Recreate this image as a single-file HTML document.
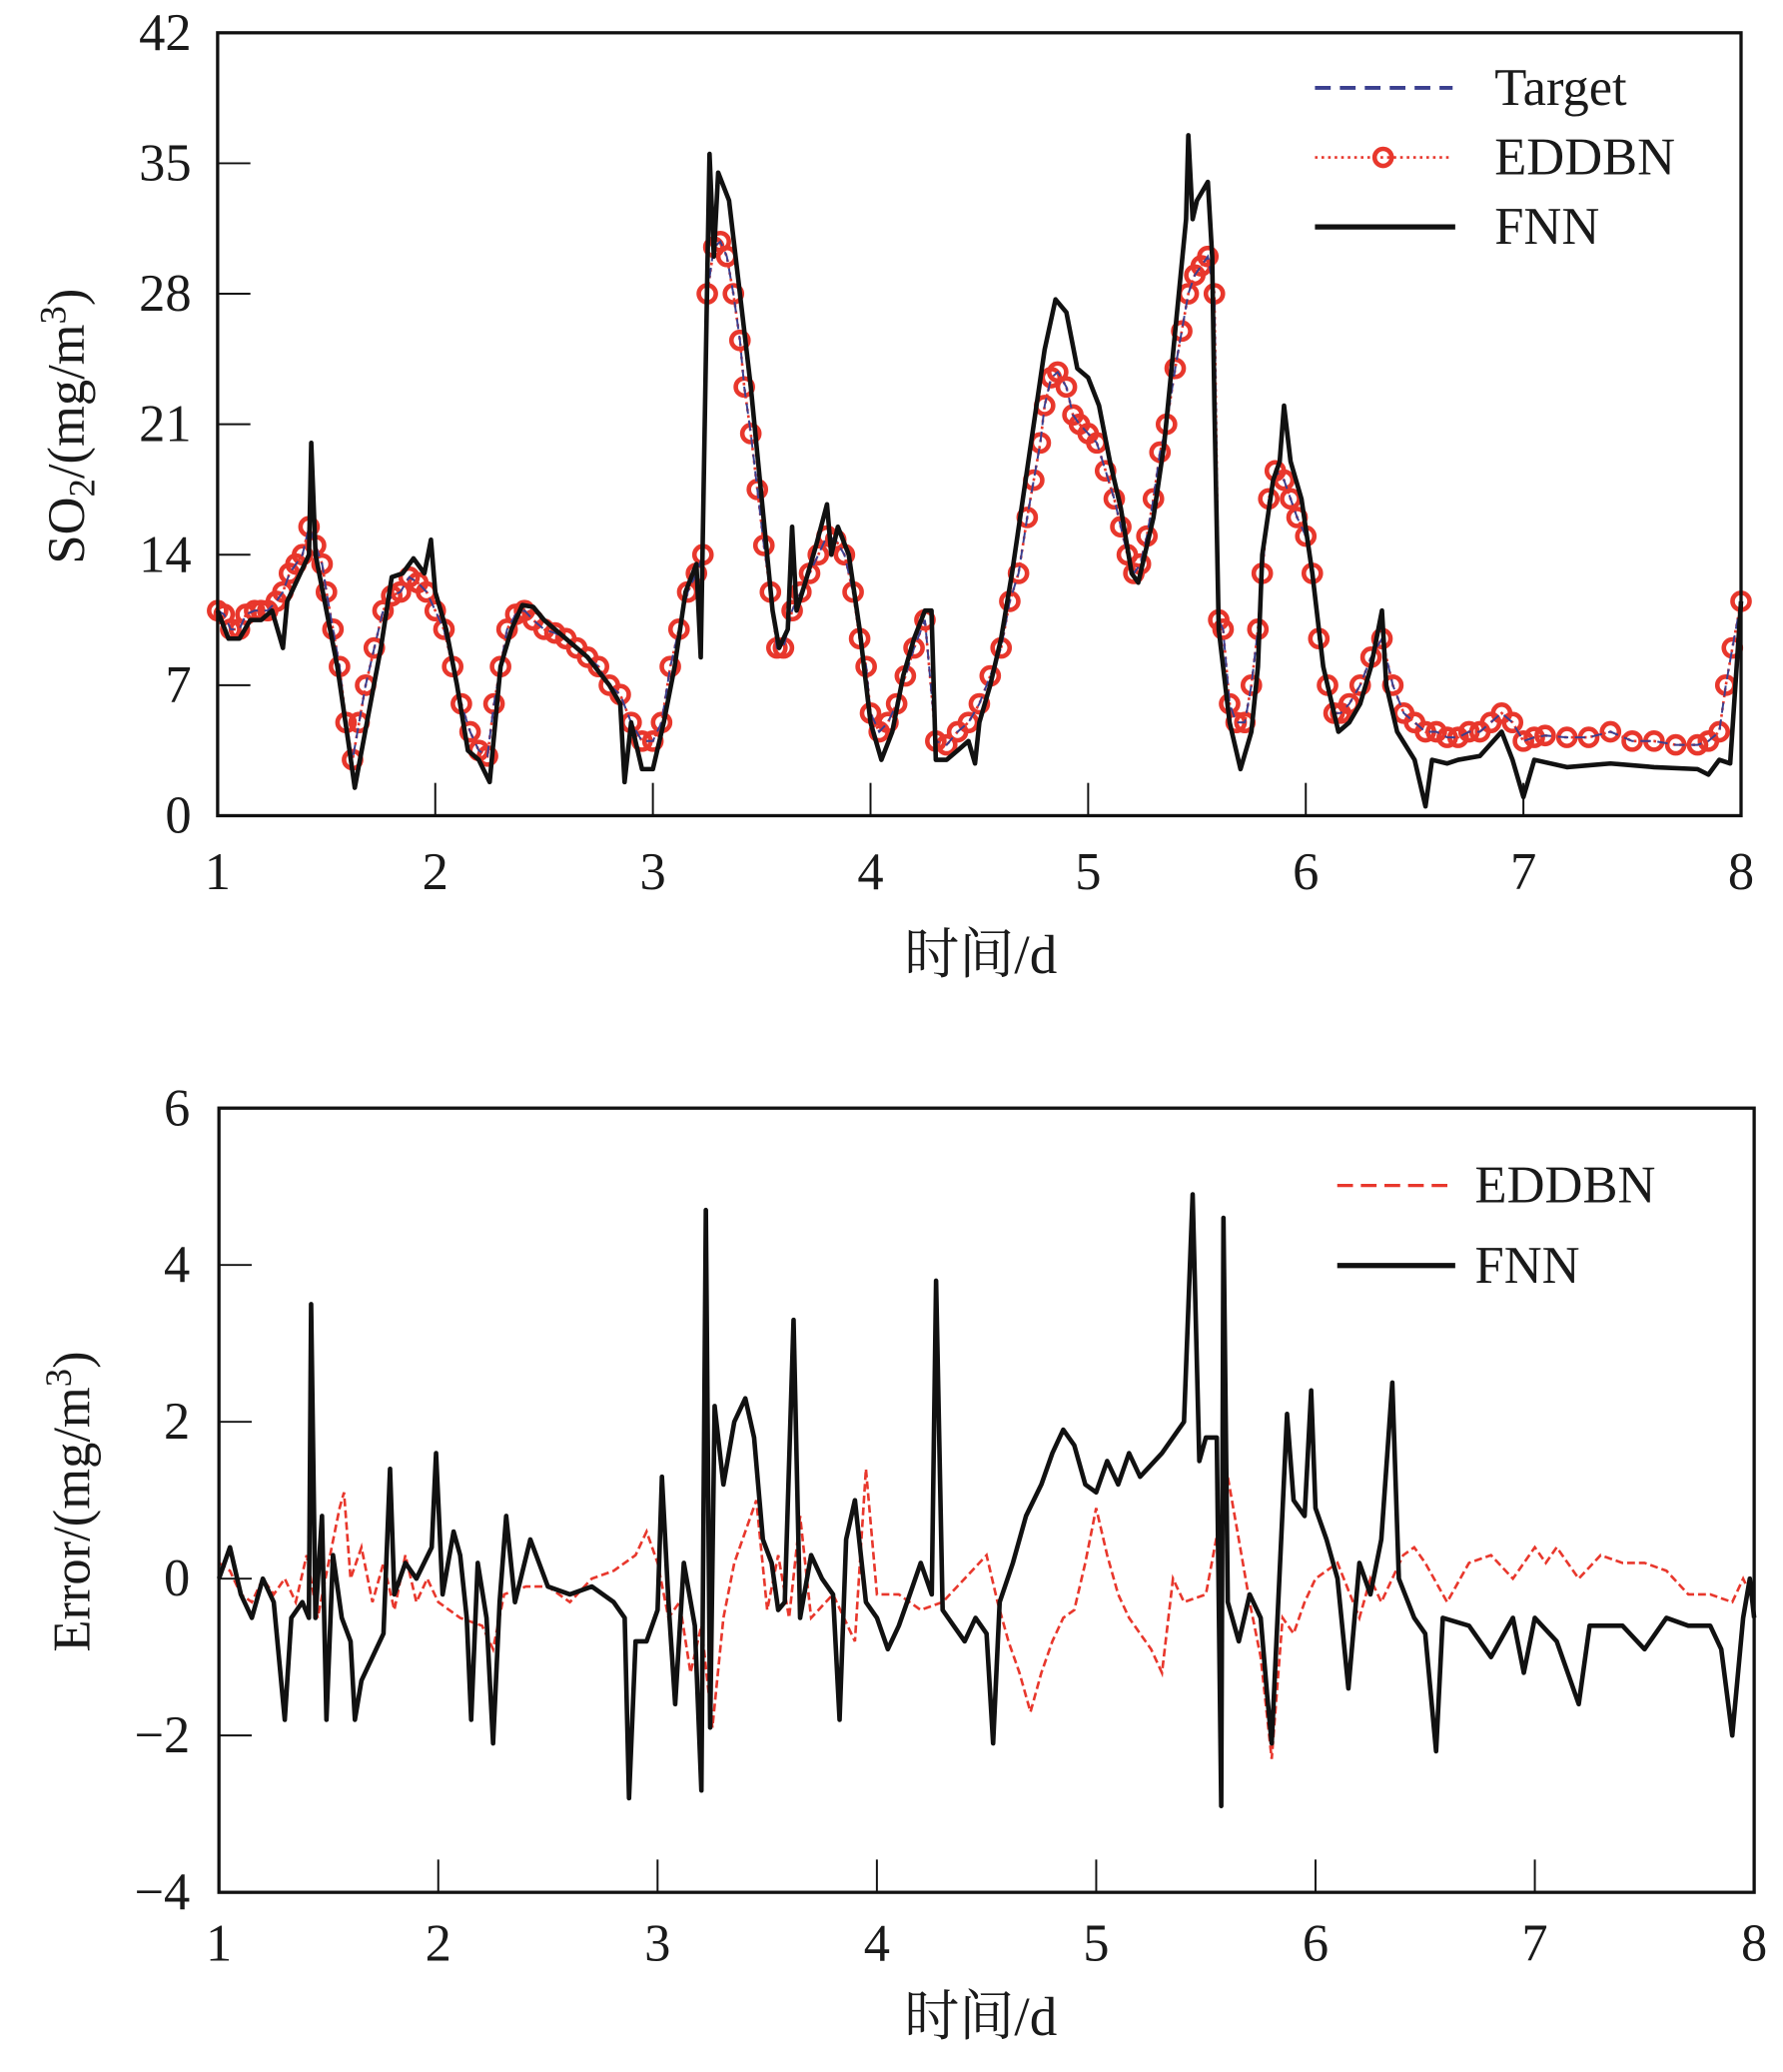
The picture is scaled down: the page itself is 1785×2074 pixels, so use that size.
<!DOCTYPE html>
<html><head><meta charset="utf-8"><style>
html,body{margin:0;padding:0;background:#fff;}
svg{display:block;}
text{font-family:"Liberation Serif","Noto Serif CJK SC",serif;fill:#1a1a1a;}
</style></head><body>
<svg id="chart" width="1785" height="2074" viewBox="0 0 1360 1580" preserveAspectRatio="none" xmlns="http://www.w3.org/2000/svg">
<g id="top"></g>
<g id="bot"></g>
</svg>
<script>
// ---- data (top panel) ----
const xTicks=[1,2,3,4,5,6,7,8];
const topYTicks=[0,7,14,21,28,35,42];
const botYTicks=[-4,-2,0,2,4,6];
const botYTickLabels=["\u22124","\u22122","0","2","4","6"];
const fnnX=[1.0,1.05,1.1,1.15,1.2,1.25,1.3,1.32,1.38,1.42,1.43,1.45,1.5,1.55,1.6,1.63,1.67,1.75,1.8,1.85,1.9,1.95,1.98,2.0,2.05,2.1,2.15,2.2,2.25,2.3,2.35,2.4,2.45,2.5,2.6,2.7,2.8,2.85,2.87,2.9,2.95,3.0,3.05,3.1,3.15,3.2,3.22,3.25,3.26,3.28,3.3,3.35,3.4,3.45,3.5,3.55,3.58,3.62,3.64,3.66,3.7,3.75,3.8,3.82,3.85,3.9,3.95,4.0,4.05,4.1,4.15,4.2,4.25,4.28,4.3,4.35,4.4,4.45,4.48,4.5,4.55,4.6,4.65,4.7,4.75,4.8,4.85,4.9,4.95,5.0,5.05,5.1,5.15,5.2,5.23,5.3,5.35,5.4,5.45,5.46,5.48,5.5,5.55,5.57,5.58,5.6,5.65,5.7,5.75,5.78,5.8,5.85,5.88,5.9,5.93,5.98,6.03,6.08,6.15,6.2,6.25,6.3,6.35,6.37,6.42,6.5,6.55,6.58,6.65,6.7,6.8,6.9,6.95,7.0,7.05,7.2,7.4,7.6,7.8,7.85,7.9,7.95,8.0];
const fnnY=[11,9.5,9.5,10.5,10.5,11,9,11.5,13,14,20,14,11,8,4,1.5,4,9,12.8,13,13.8,13,14.8,12,10,7,3.5,3,1.8,8,10,11.3,11.2,10.5,9.5,8.5,7,6,1.8,5,2.5,2.5,5,8,12,13.5,8.5,29,35.5,30,34.5,33,28,23,17,11,9,10,15.5,11,12.5,14.5,16.7,14,15.5,14,10,5,3,4.5,7.5,9.5,11,11,3,3,3.5,4,2.8,5,7,9.5,13,17,21,25,27.7,27,24,23.5,22,19,16.5,13,12.5,16,20,26,32,36.5,32,33,34,30,22,10,5,2.5,4.5,8,14,18,19,22,19,17,13,8,4.5,5,6,8,11,7,4.5,3,0.5,3,2.8,3,3.2,4.5,3,1,3,2.6,2.8,2.6,2.5,2.2,3,2.8,11.5];
const eddX=[1.0,1.03,1.06,1.1,1.13,1.17,1.2,1.23,1.27,1.3,1.33,1.36,1.39,1.42,1.45,1.48,1.5,1.53,1.56,1.59,1.62,1.65,1.68,1.72,1.76,1.8,1.84,1.88,1.92,1.96,2.0,2.04,2.08,2.12,2.16,2.2,2.24,2.27,2.3,2.33,2.37,2.41,2.45,2.5,2.55,2.6,2.65,2.7,2.75,2.8,2.85,2.9,2.95,3.0,3.04,3.08,3.12,3.16,3.2,3.23,3.25,3.28,3.31,3.34,3.37,3.4,3.42,3.45,3.48,3.51,3.54,3.57,3.6,3.64,3.68,3.72,3.76,3.8,3.84,3.88,3.92,3.95,3.98,4.0,4.04,4.08,4.12,4.16,4.2,4.25,4.3,4.35,4.4,4.45,4.5,4.55,4.6,4.64,4.68,4.72,4.75,4.78,4.8,4.83,4.86,4.9,4.93,4.96,5.0,5.04,5.08,5.12,5.15,5.18,5.21,5.24,5.27,5.3,5.33,5.36,5.4,5.43,5.46,5.49,5.52,5.55,5.58,5.6,5.62,5.65,5.68,5.72,5.75,5.78,5.8,5.83,5.86,5.9,5.93,5.96,6.0,6.03,6.06,6.1,6.13,6.16,6.2,6.25,6.3,6.35,6.4,6.45,6.5,6.55,6.6,6.65,6.7,6.75,6.8,6.85,6.9,6.95,7.0,7.05,7.1,7.2,7.3,7.4,7.5,7.6,7.7,7.8,7.85,7.9,7.93,7.96,8.0];
const eddY=[11,10.8,10,10,10.8,11,11,11,11.5,12,13,13.5,14,15.5,14.5,13.5,12,10,8,5,3,5,7,9,11,11.8,12,12.8,12.5,12,11,10,8,6,4.5,3.5,3.2,6,8,10,10.8,11,10.5,10,9.8,9.5,9,8.5,8,7,6.5,5,4,4,5,8,10,12,13,14,28,30.5,30.8,30,28,25.5,23,20.5,17.5,14.5,12,9,9,11,12,13,14,15,14.8,14,12,9.5,8,5.5,4.5,5,6,7.5,9,10.5,4,3.8,4.5,5,6,7.5,9,11.5,13,16,18,20,22,23.5,23.8,23,21.5,21,20.5,20,18.5,17,15.5,14,13,13.5,15,17,19.5,21,24,26,28,29,29.5,30,28,10.5,10,6,5,5,7,10,13,17,18.5,18,17,16,15,13,9.5,7,5.5,5.5,6,7,8.5,9.5,7,5.5,5,4.5,4.5,4.2,4.2,4.5,4.5,5,5.5,5,4,4.2,4.3,4.2,4.2,4.5,4,4,3.8,3.8,4,4.5,7,9,11.5];
// ---- data (error panel) ----
const efX=[1.0,1.05,1.1,1.15,1.2,1.25,1.3,1.33,1.38,1.41,1.42,1.44,1.47,1.49,1.52,1.56,1.6,1.62,1.65,1.7,1.75,1.78,1.8,1.85,1.9,1.97,1.99,2.02,2.07,2.1,2.13,2.15,2.18,2.22,2.25,2.28,2.31,2.35,2.42,2.5,2.6,2.7,2.8,2.85,2.87,2.9,2.95,3.0,3.02,3.05,3.08,3.12,3.17,3.2,3.22,3.24,3.26,3.3,3.35,3.4,3.44,3.48,3.52,3.55,3.58,3.62,3.65,3.7,3.75,3.8,3.83,3.86,3.9,3.95,4.0,4.05,4.1,4.15,4.2,4.25,4.27,4.3,4.35,4.4,4.45,4.5,4.53,4.56,4.62,4.68,4.75,4.8,4.85,4.9,4.95,5.0,5.05,5.1,5.15,5.2,5.3,5.4,5.44,5.47,5.5,5.55,5.57,5.58,5.6,5.65,5.7,5.75,5.78,5.8,5.83,5.87,5.9,5.95,5.98,6.0,6.05,6.1,6.15,6.2,6.25,6.3,6.35,6.38,6.45,6.5,6.55,6.58,6.7,6.8,6.9,6.95,7.0,7.1,7.2,7.25,7.4,7.5,7.6,7.7,7.8,7.85,7.9,7.95,7.98,8.0];
const efY=[0,0.4,-0.2,-0.5,0,-0.3,-1.8,-0.5,-0.3,-0.5,3.5,-0.5,0.8,-1.8,0.3,-0.5,-0.8,-1.8,-1.3,-1,-0.7,1.4,-0.2,0.2,0,0.4,1.6,-0.2,0.6,0.3,-0.5,-1.8,0.2,-0.5,-2.1,-0.3,0.8,-0.3,0.5,-0.1,-0.2,-0.1,-0.3,-0.5,-2.8,-0.8,-0.8,-0.4,1.3,-0.3,-1.6,0.2,-0.6,-2.7,4.7,-1.9,2.2,1.2,2,2.3,1.8,0.5,0.2,-0.4,-0.3,3.3,-0.5,0.3,0,-0.2,-1.8,0.5,1,-0.3,-0.5,-0.9,-0.6,-0.2,0.2,-0.2,3.8,-0.4,-0.6,-0.8,-0.5,-0.7,-2.1,-0.3,0.2,0.8,1.2,1.6,1.9,1.7,1.2,1.1,1.5,1.2,1.6,1.3,1.6,2,4.9,1.5,1.8,1.8,-2.9,4.6,-0.3,-0.8,-0.2,-0.5,-1.5,-2.1,-0.3,2.1,1,0.8,2.4,0.9,0.5,0,-1.4,0.2,-0.2,0.5,2.5,0,-0.5,-0.7,-2.2,-0.5,-0.6,-1,-0.5,-1.2,-0.5,-0.8,-1.6,-0.6,-0.6,-0.9,-0.5,-0.6,-0.6,-0.9,-2,-0.5,0,-0.5];
const eeX=[1.0,1.05,1.1,1.15,1.2,1.25,1.3,1.35,1.4,1.45,1.5,1.55,1.57,1.6,1.65,1.7,1.75,1.8,1.85,1.9,1.95,2.0,2.1,2.2,2.25,2.3,2.4,2.5,2.6,2.7,2.8,2.9,2.95,3.0,3.05,3.1,3.15,3.2,3.25,3.3,3.35,3.4,3.45,3.5,3.55,3.6,3.65,3.7,3.8,3.9,3.95,4.0,4.1,4.2,4.3,4.4,4.5,4.55,4.6,4.65,4.7,4.75,4.8,4.85,4.9,4.95,5.0,5.05,5.1,5.15,5.2,5.25,5.3,5.35,5.4,5.5,5.6,5.65,5.7,5.75,5.8,5.85,5.9,5.95,6.0,6.1,6.2,6.25,6.3,6.4,6.45,6.5,6.6,6.7,6.8,6.9,7.0,7.05,7.1,7.2,7.3,7.4,7.5,7.6,7.7,7.8,7.9,7.95,8.0];
const eeY=[0.2,0.1,-0.2,-0.3,0,-0.2,0,-0.3,0.3,-0.5,0.2,0.9,1.1,0,0.4,-0.3,0.2,-0.4,0.3,-0.3,0,-0.3,-0.5,-0.6,-0.9,-0.2,-0.1,-0.1,-0.3,0,0.1,0.3,0.6,0.2,-0.5,-0.3,-1.2,-0.6,-1.9,-0.5,0.2,0.6,1.0,-0.4,0.3,-0.5,0.8,-0.5,-0.2,-0.8,1.4,-0.2,-0.2,-0.4,-0.3,0,0.3,-0.3,-0.8,-1.2,-1.7,-1.2,-0.8,-0.5,-0.4,0.2,0.9,0.3,-0.2,-0.5,-0.7,-0.9,-1.2,0,-0.3,-0.2,1.3,0.5,-0.3,-1,-2.3,-0.5,-0.7,-0.3,0,0.2,-0.5,0,-0.3,0.3,0.4,0.2,-0.3,0.2,0.3,0,0.4,0.2,0.4,0,0.3,0.2,0.2,0.1,-0.2,-0.2,-0.3,0,-0.3];

const NS="http://www.w3.org/2000/svg";
function mk(parent,tag,attrs,txt){const e=document.createElementNS(NS,tag);for(const k in attrs)e.setAttribute(k,attrs[k]);if(txt!==undefined)e.textContent=txt;parent.appendChild(e);return e;}
function scale(d0,d1,r0,r1){return v=>r0+(v-d0)*(r1-r0)/(d1-d0);}
function pathD(xs,ys,sx,sy){return xs.map((x,i)=>(i?'L':'M')+sx(x).toFixed(1)+','+sy(ys[i]).toFixed(1)).join('');}

// ===== top panel =====
const T=document.getElementById('top');
const tL=166,tR=1328,tT=25,tB=622;
const tx=scale(1,8,tL,tR), ty=scale(0,42,tB,tT);
let e;
e=mk(T,'path',{d:pathD(eddX,eddY,tx,ty),fill:'none',stroke:'#e8372c','stroke-width':2,'stroke-dasharray':'2,3'});


const mg=mk(T,'g',{});


eddX.forEach((x,i)=>{const c=mk(mg,'circle',{cx:tx(x),cy:ty(eddY[i]),r:6.5,fill:'none',stroke:'#e8372c','stroke-width':3.5});

});
e=mk(T,'path',{d:pathD(eddX,eddY,tx,ty),fill:'none',stroke:'#3a3f8f','stroke-width':1.5,'stroke-dasharray':'8,5'});


e=mk(T,'path',{d:pathD(fnnX,fnnY,tx,ty),fill:'none',stroke:'#111','stroke-width':3.5,'stroke-linejoin':'round'});


e=mk(T,'rect',{x:tL,y:tT,width:tR-tL,height:tB-tT,fill:'none',stroke:'#111','stroke-width':2.5});


xTicks.forEach(v=>{mk(T,'line',{x1:tx(v),x2:tx(v),y1:tB,y2:tB-25,stroke:'#111','stroke-width':1.5});
const t=mk(T,'text',{x:tx(v),y:tB+56,'font-size':40,'text-anchor':'middle'},String(v));

});
topYTicks.forEach(v=>{mk(T,'line',{x1:tL,x2:tL+25,y1:ty(v),y2:ty(v),stroke:'#111','stroke-width':1.5});
const t=mk(T,'text',{x:tL-20,y:ty(v)+13,'font-size':40,'text-anchor':'end'},String(v));

});
e=mk(T,'text',{x:748,y:742,'font-size':42,'text-anchor':'middle'},'时间/d');


e=mk(T,'text',{transform:'translate(64,325) rotate(-90)','font-size':40,'text-anchor':'middle'});
e.innerHTML='SO<tspan font-size="28" dy="8">2</tspan><tspan dy="-8">/(mg/m</tspan><tspan font-size="28" dy="-14">3</tspan><tspan dy="14">)</tspan>';


// legend
const lg=mk(T,'g',{});


mk(lg,'line',{x1:1003,x2:1108,y1:67,y2:67,stroke:'#3a3f8f','stroke-width':3,'stroke-dasharray':'12,7'});
mk(lg,'text',{x:1140,y:80,'font-size':40},'Target');
mk(lg,'line',{x1:1003,x2:1108,y1:120,y2:120,stroke:'#e8372c','stroke-width':2,'stroke-dasharray':'2,3'});
mk(lg,'circle',{cx:1055,cy:120,r:6.5,fill:'none',stroke:'#e8372c','stroke-width':3.5});
mk(lg,'text',{x:1140,y:133,'font-size':40},'EDDBN');
mk(lg,'line',{x1:1003,x2:1110,y1:173,y2:173,stroke:'#111','stroke-width':4});
mk(lg,'text',{x:1140,y:186,'font-size':40},'FNN');

// ===== bottom panel =====
const B=document.getElementById('bot');
const bL=167,bR=1338,bT=845,bB=1443;
const bx=scale(1,8,bL,bR), by=scale(-4,6,bB,bT);
e=mk(B,'path',{d:pathD(eeX,eeY,bx,by),fill:'none',stroke:'#e8372c','stroke-width':2,'stroke-dasharray':'6,3'});


e=mk(B,'path',{d:pathD(efX,efY,bx,by),fill:'none',stroke:'#111','stroke-width':3.5,'stroke-linejoin':'round'});


e=mk(B,'rect',{x:bL,y:bT,width:bR-bL,height:bB-bT,fill:'none',stroke:'#111','stroke-width':2.5});


xTicks.forEach(v=>{mk(B,'line',{x1:bx(v),x2:bx(v),y1:bB,y2:bB-25,stroke:'#111','stroke-width':1.5});
const t=mk(B,'text',{x:bx(v),y:bB+52,'font-size':40,'text-anchor':'middle'},String(v));

});
botYTicks.forEach((v,i)=>{mk(B,'line',{x1:bL,x2:bL+25,y1:by(v),y2:by(v),stroke:'#111','stroke-width':1.5});
const t=mk(B,'text',{x:bL-22,y:by(v)+13,'font-size':40,'text-anchor':'end'},botYTickLabels[i]);

});
e=mk(B,'text',{x:748,y:1552,'font-size':42,'text-anchor':'middle'},'时间/d');


e=mk(B,'text',{transform:'translate(68,1145) rotate(-90)','font-size':40,'text-anchor':'middle'});
e.innerHTML='Error/(mg/m<tspan font-size="28" dy="-14">3</tspan><tspan dy="14">)</tspan>';


const lg2=mk(B,'g',{});


mk(lg2,'line',{x1:1020,x2:1108,y1:904,y2:904,stroke:'#e8372c','stroke-width':2.5,'stroke-dasharray':'12,6'});
mk(lg2,'text',{x:1125,y:917,'font-size':40},'EDDBN');
mk(lg2,'line',{x1:1020,x2:1110,y1:965,y2:965,stroke:'#111','stroke-width':4});
mk(lg2,'text',{x:1125,y:978,'font-size':40},'FNN');
</script>
</body></html>
